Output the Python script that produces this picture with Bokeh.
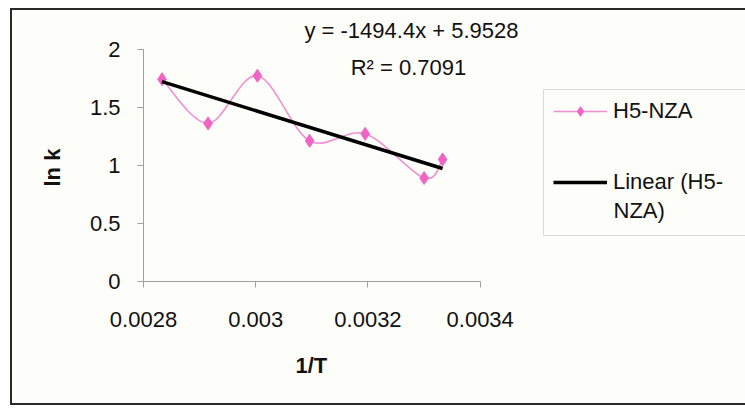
from bokeh.plotting import figure
from bokeh.models import (Range1d, Legend, LegendItem, Label, FixedTicker,
                          ColumnDataSource, BoxAnnotation, Title)
from bokeh.embed import file_html
from bokeh.resources import INLINE

# ---- data ----
inv_T = [0.002833, 0.002915, 0.003003, 0.003096, 0.003195, 0.003300, 0.003333]
ln_k = [1.74, 1.36, 1.77, 1.21, 1.27, 0.89, 1.05]
series_name = "H5-NZA"
trend_name_1 = "Linear (H5-"
trend_name_2 = "NZA)"
slope = -1494.4
intercept = 5.9528
r_squared = 0.7091
x_ticks = [0.0028, 0.0030, 0.0032, 0.0034]
x_tick_labels = ["0.0028", "0.003", "0.0032", "0.0034"]
y_ticks = [0, 0.5, 1, 1.5, 2]
y_tick_labels = ["0", "0.5", "1", "1.5", "2"]
x_title = "1/T"
y_title = "ln k"

FONT = "Liberation Sans"
BG = "#fdfdf9"
PINK_LINE = "#f48fd3"
PINK_MARK = "#f064c6"
EDGE = "#2a2a2a"

# layout geometry (pixels); canvas begins at page x=12, y=10
W, H = 733, 393
LEFT, BOTTOM = 131, 122
PX_PER_X = 336.7 / 0.0006      # plot-area pixels per unit of 1/T
PX_PER_Y = 232.5 / 2.0         # plot-area pixels per unit of ln k
x_lo, y_lo = x_ticks[0], y_ticks[0]
x_hi = x_lo + (W - LEFT) / PX_PER_X
y_hi = y_lo + (H - BOTTOM) / PX_PER_Y

# chart border on the left, top and bottom (drawn as shadows, no layout effect)
shadow = (f"-2px 0 0 0 {EDGE}, 0 -2px 0 0 {EDGE}, 0 2px 0 0 {EDGE}, "
          f"-2px -2px 0 0 {EDGE}, -2px 2px 0 0 {EDGE}")

p = figure(width=W, height=H, x_range=Range1d(x_lo, x_hi),
           y_range=Range1d(y_lo, y_hi), output_backend="svg",
           toolbar_location=None, title=None,
           min_border_left=LEFT, min_border_right=0, min_border_top=0,
           min_border_bottom=BOTTOM, background_fill_color=BG,
           border_fill_color=BG,
           styles={"box-shadow": shadow, "margin": "10px 0px 0px 12px"})
p.outline_line_color = None
p.grid.visible = False

# smoothed series (Bezier through the points, Excel-like smoothing)
n = len(inv_T)
x0s, y0s, x1s, y1s, cx0s, cy0s, cx1s, cy1s = [], [], [], [], [], [], [], []
for i in range(n - 1):
    xa, ya = inv_T[i], ln_k[i]
    xb, yb = inv_T[i + 1], ln_k[i + 1]
    xm, ym = (inv_T[i - 1], ln_k[i - 1]) if i > 0 else (xa, ya)
    xp, yp = (inv_T[i + 2], ln_k[i + 2]) if i + 2 < n else (xb, yb)
    x0s.append(xa); y0s.append(ya); x1s.append(xb); y1s.append(yb)
    cx0s.append(xa + (xb - xm) / 6); cy0s.append(ya + (yb - ym) / 6)
    cx1s.append(xb - (xp - xa) / 6); cy1s.append(yb - (yp - ya) / 6)
bez_src = ColumnDataSource(dict(x0=x0s, y0=y0s, x1=x1s, y1=y1s,
                                cx0=cx0s, cy0=cy0s, cx1=cx1s, cy1=cy1s))
curve = p.bezier(x0="x0", y0="y0", x1="x1", y1="y1", cx0="cx0", cy0="cy0",
                 cx1="cx1", cy1="cy1", source=bez_src, line_color=PINK_LINE,
                 line_width=1.6)
marks = p.scatter(inv_T, ln_k, marker="diamond", size=13, fill_color=PINK_MARK,
                  line_color=PINK_MARK)

# linear trend line
tx = [min(inv_T), max(inv_T)]
ty = [slope * v + intercept for v in tx]
trend = p.line(tx, ty, line_color="black", line_width=3.5)

# axes
for ax in (p.xaxis[0], p.yaxis[0]):
    ax.axis_line_color = "#a0a0a0"
    ax.major_tick_line_color = "#a0a0a0"
    ax.major_tick_out = 6
    ax.major_tick_in = 0
    ax.minor_tick_line_color = None
    ax.major_label_text_font = FONT
    ax.major_label_text_font_size = "22px"
    ax.major_label_text_color = "#111111"

p.xaxis.bounds = (x_ticks[0], x_ticks[-1])
p.xaxis.ticker = FixedTicker(ticks=x_ticks)
p.xaxis.major_label_overrides = dict(zip(x_ticks, x_tick_labels))
p.xaxis.major_label_standoff = 24

p.yaxis.bounds = (y_ticks[0], y_ticks[-1])
p.yaxis.ticker = FixedTicker(ticks=y_ticks)
p.yaxis.major_label_overrides = dict(zip(y_ticks, y_tick_labels))
p.yaxis.major_label_standoff = 17

# axis titles, centred on the drawn axis extent
p.add_layout(Title(text=x_title, align="left", offset=152, standoff=43,
                   text_font=FONT, text_font_size="22px",
                   text_font_style="bold", text_color="#111111"), "below")
p.add_layout(Title(text=y_title, align="left", offset=95, standoff=43,
                   text_font=FONT, text_font_size="22px",
                   text_font_style="bold", text_color="#111111"), "left")

# trend-line equation and R² (canvas pixel positions)
p.add_layout(Label(x=399, y=20, x_units="canvas", y_units="canvas",
                   text=f"y = {slope}x + {intercept}", text_font=FONT,
                   text_font_size="22px", text_align="center",
                   text_baseline="middle", text_color="#111111"))
p.add_layout(Label(x=396, y=57, x_units="canvas", y_units="canvas",
                   text=f"R\u00b2 = {r_squared}", text_font=FONT,
                   text_font_size="22px", text_align="center",
                   text_baseline="middle", text_color="#111111"))

# legend frame (runs past the right edge, like the reference)
p.add_layout(BoxAnnotation(left=531, right=900, top=79, bottom=225,
                           left_units="canvas", right_units="canvas",
                           top_units="canvas", bottom_units="canvas",
                           fill_color=BG, fill_alpha=1,
                           line_color="#909090", line_width=1))

legend = Legend(items=[LegendItem(label=series_name, renderers=[curve, marks]),
                       LegendItem(label=trend_name_1, renderers=[trend])],
                location=(410, 86), orientation="vertical")
legend.label_text_font = FONT
legend.label_text_font_size = "22px"
legend.label_text_color = "#111111"
legend.glyph_width = 54
legend.glyph_height = 24
legend.label_height = 24
legend.label_standoff = 6
legend.padding = 0
legend.spacing = 45
legend.margin = 0
legend.border_line_color = None
legend.background_fill_alpha = 0
p.add_layout(legend, "center")

p.add_layout(Label(x=601, y=200, x_units="canvas", y_units="canvas",
                   text=trend_name_2, text_font=FONT, text_font_size="22px",
                   text_align="left", text_baseline="middle",
                   text_color="#111111"))

open("out.html", "w").write(file_html(p, INLINE))
